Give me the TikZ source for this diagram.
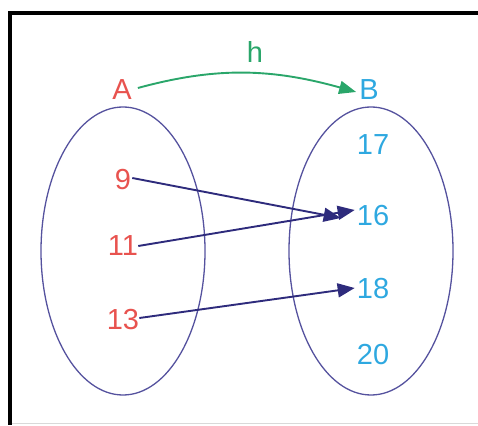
\documentclass[tikz,border=0pt]{standalone}
\usepackage{fontspec}
\setmainfont{Liberation Sans}
\usetikzlibrary{arrows.meta,shapes.geometric}
\definecolor{lred}{HTML}{E8534F}
\definecolor{lblue}{HTML}{2EA8E0}
\definecolor{lgreen}{HTML}{2AA66A}
\definecolor{navy}{HTML}{2E2B7C}
\definecolor{ellc}{HTML}{55529E}
\begin{document}
\begin{tikzpicture}[x=1pt,y=1pt,
  lab/.style={inner sep=0pt,font=\fontsize{29}{30}\selectfont},
  leftnum/.style={lab,text=lred},
  rightnum/.style={lab,text=lblue},
  setell/.style={draw=ellc,line width=1.3pt,ellipse,minimum width=164pt,minimum height=288pt,inner sep=0pt},
  maparrow/.style={draw=navy,line width=1.9pt,-{Triangle[length=17pt,width=14pt]}}]
\useasboundingbox (0,0) rectangle (478,425);
% frame
\draw[line width=4pt] (478,412) -- (10,412) -- (10,0);
\draw[black!15,line width=1pt] (12,1.5) -- (478,1.5);
% sets
\node[setell] (SA) at (123,174) {};
\node[setell] (SB) at (371,174) {};
% set labels
\node[leftnum] (A) at (122,335) {A};
\node[rightnum] (B) at (369,335) {B};
\node[lab,text=lgreen] (h) at (255,373) {h};
\draw[draw=lgreen,line width=1.9pt,-{Triangle[length=17pt,width=13pt]}]
  ([xshift=6pt,yshift=2pt]A.east) .. controls (215,358) and (270,357) .. ([xshift=-3pt,yshift=-2pt]B.west);
% elements
\node[leftnum] (n9) at (123,245) {9};
\node[leftnum] (n11) at (123,179) {11};
\node[leftnum] (n13) at (123,105) {13};
\node[rightnum] (n17) at (373,280) {17};
\node[rightnum] (n16) at (373,209) {16};
\node[rightnum] (n18) at (373,136) {18};
\node[rightnum] (n20) at (373,70) {20};
% mapping arrows
\draw[maparrow] ([xshift=1pt,yshift=2pt]n9.east) -- ([xshift=-16pt,yshift=-2pt]n16.west);
\draw[maparrow] ([xshift=0pt,yshift=0pt]n11.east) -- ([xshift=-2pt,yshift=6pt]n16.west);
\draw[maparrow] ([xshift=0pt,yshift=2pt]n13.east) -- ([xshift=-2pt,yshift=1pt]n18.west);
\end{tikzpicture}
\end{document}
